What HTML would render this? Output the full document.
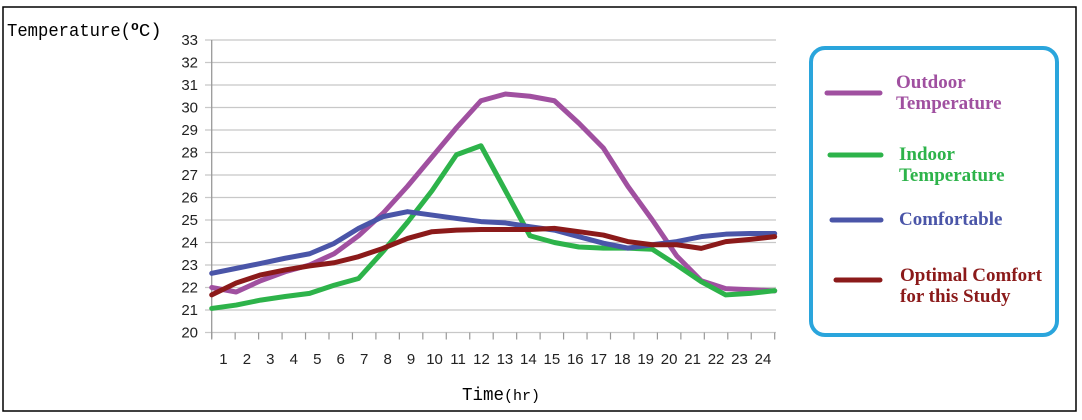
<!DOCTYPE html>
<html><head><meta charset="utf-8"><style>
body{margin:0;background:#fff;}
#wrap{position:relative;width:1082px;height:420px;overflow:hidden;background:#fff;}
svg text{font-family:"Liberation Sans",sans-serif;}
.lg{font-family:"Liberation Serif",serif;font-weight:bold;font-size:19px;}
</style></head><body>
<div id="wrap">
<svg id="chart" width="1082" height="420">
<rect x="3" y="7" width="1073" height="404" fill="none" stroke="#000" stroke-width="1.5"/>
<g id="grid"></g>
<g id="yticks"></g>
<g id="xticks"></g>
<g id="series"></g>
<text x="7" y="36" font-size="18" style="font-family:'Liberation Mono',monospace"><tspan textLength="124" lengthAdjust="spacingAndGlyphs">Temperature(</tspan><tspan font-weight="bold" font-size="13" dy="-6">o</tspan><tspan dy="6" textLength="23" lengthAdjust="spacingAndGlyphs">C)</tspan></text>
<text x="462" y="400" font-size="18" style="font-family:'Liberation Mono',monospace"><tspan textLength="42" lengthAdjust="spacingAndGlyphs">Time</tspan><tspan font-size="15" textLength="36" lengthAdjust="spacingAndGlyphs">(hr)</tspan></text>
<g>
<rect x="811" y="48" width="246" height="287" rx="14" fill="#fff" stroke="#2aa5dc" stroke-width="4"/>
<line x1="827" y1="93" x2="880" y2="93" stroke="#a050a0" stroke-width="5" stroke-linecap="round"/>
<text class="lg" x="896" y="88" fill="#a050a0"><tspan x="896">Outdoor</tspan><tspan x="896" dy="21">Temperature</tspan></text>
<line x1="830" y1="155" x2="881" y2="155" stroke="#2db34a" stroke-width="5" stroke-linecap="round"/>
<text class="lg" x="899" y="160" fill="#2db34a"><tspan x="899">Indoor</tspan><tspan x="899" dy="21">Temperature</tspan></text>
<line x1="832" y1="220" x2="881" y2="220" stroke="#4a55a8" stroke-width="5" stroke-linecap="round"/>
<text class="lg" x="899" y="225" fill="#4a55a8">Comfortable</text>
<line x1="836" y1="280" x2="880" y2="280" stroke="#8b1a1a" stroke-width="5" stroke-linecap="round"/>
<text class="lg" x="900" y="281" fill="#8b1a1a"><tspan x="900">Optimal Comfort</tspan><tspan x="900" dy="21">for this Study</tspan></text>
</g>
</svg></div>
<script>
const hours=["1","2","3","4","5","6","7","8","9","10","11","12","13","14","15","16","17","18","19","20","21","22","23","24"];
const yTicks=[20,21,22,23,24,25,26,27,28,29,30,31,32,33];
const outdoor=[22.0,21.8,22.3,22.7,23.0,23.5,24.3,25.3,26.5,27.8,29.1,30.3,30.6,30.5,30.3,29.3,28.2,26.5,25.0,23.4,22.3,21.95,21.9,21.85];
const indoor=[21.07,21.22,21.44,21.6,21.74,22.1,22.4,23.6,24.9,26.3,27.9,28.3,26.3,24.3,24.0,23.8,23.75,23.75,23.7,23.0,22.26,21.67,21.74,21.86];
const comfortable=[22.63,22.85,23.07,23.3,23.5,23.96,24.63,25.15,25.37,25.22,25.07,24.93,24.87,24.7,24.55,24.26,23.97,23.75,23.9,24.04,24.26,24.37,24.4,24.4];
const optimal=[21.67,22.2,22.56,22.78,22.96,23.1,23.37,23.74,24.18,24.48,24.55,24.58,24.58,24.58,24.63,24.48,24.33,24.04,23.9,23.9,23.74,24.04,24.14,24.26];
const NS="http://www.w3.org/2000/svg";
const X0=211.7,X1=774.7,Y0=332.5,DY=22.5;
function xPt(i){return X0+i*(X1-X0)/(hours.length-1);}
function xLab(i){return X0+(i+0.5)*(X1-X0)/hours.length;}
function yS(v){return Y0-(v-20)*DY;}
function mk(tag,attrs,parent){const e=document.createElementNS(NS,tag);for(const k in attrs)e.setAttribute(k,attrs[k]);parent.appendChild(e);return e;}
const grid=document.getElementById('grid'),yt=document.getElementById('yticks'),xt=document.getElementById('xticks'),ser=document.getElementById('series');
yTicks.forEach(v=>{
  const l=mk('line',{x1:205,x2:776,y1:yS(v),y2:yS(v),stroke:'#c8c8c8','stroke-width':1.3},grid);
  
  
  const t=mk('text',{x:198,y:yS(v)+5,'text-anchor':'end','font-size':15,fill:'#222'},yt);
  t.textContent=v;
  
  
});
const ax=mk('line',{x1:X0,x2:X0,y1:yS(33),y2:Y0+6,stroke:'#999','stroke-width':1.3},grid);


for(let i=0;i<=hours.length;i++){
  const x=X0+i*(X1-X0)/hours.length;
  const tk=mk('line',{x1:x,x2:x,y1:Y0,y2:Y0+7,stroke:'#999','stroke-width':1.2},xt);
  
  
}
hours.forEach((h,i)=>{
  const t=mk('text',{x:xLab(i),y:364,'text-anchor':'middle','font-size':15,fill:'#222'},xt);
  t.textContent=h;
  
  
});
function drawLine(data,color,name){
  const p=mk('polyline',{points:data.map((v,i)=>xPt(i)+','+yS(v)).join(' '),fill:'none',stroke:color,'stroke-width':5,'stroke-linejoin':'round','stroke-linecap':'round'},ser);
  
  
}
drawLine(outdoor,'#a050a0','outdoor-temperature-line');
drawLine(indoor,'#2db34a','indoor-temperature-line');
drawLine(comfortable,'#4a55a8','comfortable-line');
drawLine(optimal,'#8b1a1a','optimal-comfort-line');
</script>
</body></html>
